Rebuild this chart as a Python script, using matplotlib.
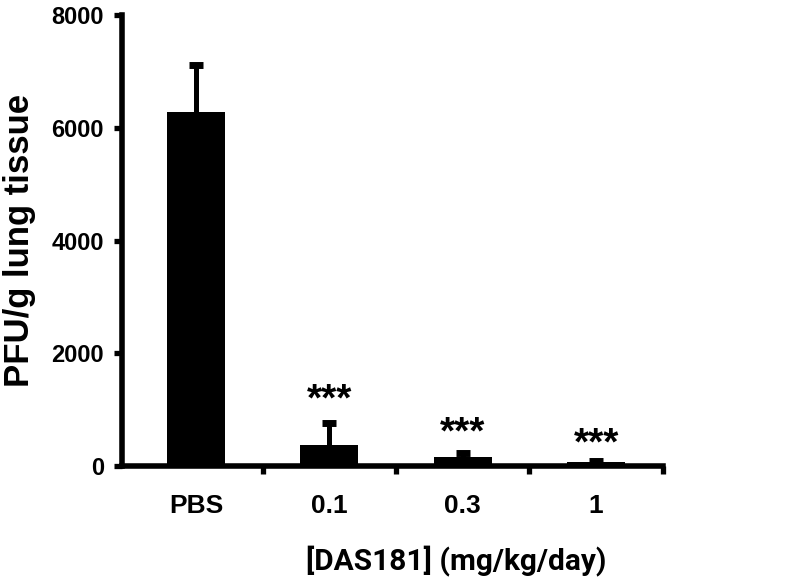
import numpy as np
import matplotlib.pyplot as plt

# data
groups = ['PBS', '0.1', '0.3', '1']
pfu_mean = [6280, 370, 165, 70]
pfu_err = [830, 390, 60, 25]
stars = ['', '***', '***', '***']
star_y = [0, 1160, 570, 390]

fig = plt.figure(figsize=(8, 5.87), dpi=100)
ax = fig.add_axes([0.1525, 0.2061, 0.676, 0.7683])

x = np.arange(len(groups))
ax.bar(x, pfu_mean, width=0.435, color='black', zorder=2)
eb = ax.errorbar(x, pfu_mean, yerr=[np.zeros(len(x)), pfu_err], fmt='none',
                 ecolor='black', elinewidth=3.6, capsize=5, capthick=5,
                 zorder=1)
eb[1][0].set_visible(False)  # no lower cap

for xi, s, sy in zip(x, stars, star_y):
    if s:
        ax.text(xi, sy, s, ha='center', va='center', fontsize=28,
                fontweight='bold', family='Liberation Sans')

ax.set_xlim(-0.556, 3.5)
ax.set_ylim(0, 8000)
ax.set_yticks([0, 2000, 4000, 6000, 8000])
ax.set_xticks([0.5, 1.5, 2.5, 3.5])
ax.set_xticklabels([])
ax.set_xticks(x, minor=True)
ax.set_xticklabels(groups, minor=True)
for lbl in ax.get_xticklabels(minor=True):
    lbl.set_family('Liberation Sans')
    lbl.set_fontsize(19)
    lbl.set_fontweight('bold')
ax.tick_params(axis='x', which='minor', length=0, pad=20)
ax.tick_params(axis='x', which='major', length=6, width=3.8)
ax.tick_params(axis='y', length=6, width=3.8, pad=7)
for lbl in ax.get_yticklabels():
    lbl.set_fontsize(17)
    lbl.set_fontweight('bold')
    lbl.set_family('Liberation Sans')

for side in ['top', 'right']:
    ax.spines[side].set_visible(False)
for side in ['left', 'bottom']:
    ax.spines[side].set_linewidth(4)

ax.set_ylabel('PFU/g lung tissue', fontsize=25, fontweight='bold',
              family='Liberation Sans', labelpad=11)
ax.set_xlabel('[DAS181] (mg/kg/day)', fontsize=21.5, family='Roboto',
              fontweight='bold')
ax.xaxis.set_label_coords(0.618, -0.178)

plt.savefig('out.png', dpi=100)
